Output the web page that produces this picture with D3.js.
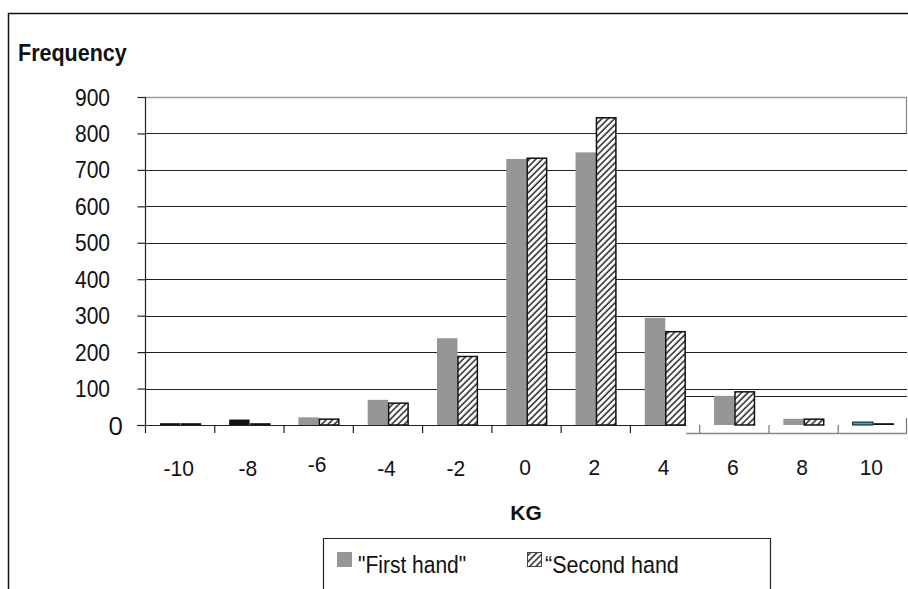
<!DOCTYPE html>
<html><head><meta charset="utf-8">
<script src="https://cdn.jsdelivr.net/npm/d3@7/dist/d3.min.js"></script>
<style>html,body{margin:0;padding:0;background:#fff;}svg{display:block;}</style>
</head><body>
<svg id="c" width="908" height="589"></svg>
<script>
const categories = ["-10","-8","-6","-4","-2","0","2","4","6","8","10"];
const firstHand  = [5, 15, 21, 69, 238, 730, 748, 294, 80, 17, 8];
const secondHand = [5, 5, 16, 60, 188, 732, 843, 256, 91, 16, 5];
const yTicks = [0,100,200,300,400,500,600,700,800,900];
const seriesNames = ["\"First hand\"", "\u201CSecond hand"];
// per-point fill oddities seen in the picture
const firstFill  = ["#111","#111","#969696","#969696","#969696","#969696","#969696","#969696","#969696","#969696","#39a7d8"];
const secondFill = ["#111","#111","hatch","hatch","hatch","hatch","hatch","hatch","hatch","hatch","#111"];

const svg = d3.select("#c");
const W = 908, H = 589;
const plot = {l:145, r:907, t:97, b:425};

const defs = svg.append("defs");
const pat = defs.append("pattern").attr("id","hatch").attr("patternUnits","userSpaceOnUse")
  .attr("width",4.5).attr("height",4.5).attr("patternTransform","rotate(45)");
pat.append("rect").attr("width",4.5).attr("height",4.5).attr("fill","#fff");
pat.append("line").attr("x1",1).attr("x2",1).attr("y1",0).attr("y2",4.5).attr("stroke","#333").attr("stroke-width",1.6);

// outer frame
svg.append("path").attr("d",`M8.5,${H} L8.5,13.5 L${W},13.5`).attr("fill","none").attr("stroke","#111").attr("stroke-width",1.5);

const x = d3.scaleBand().domain(categories).range([plot.l, plot.r]).padding(0);
const bw = x.bandwidth();
const xs = d3.scaleBand().domain([0,1]).range([bw*0.215, bw*0.805]).padding(0);
const y = d3.scaleLinear().domain([0,900]).range([plot.b, plot.t]);

// gridlines
svg.append("g").selectAll("line").data(yTicks.filter(d=>d>0)).join("line")
  .attr("x1",plot.l).attr("x2",plot.r)
  .attr("y1",d=>Math.round(y(d))+0.5).attr("y2",d=>Math.round(y(d))+0.5)
  .attr("stroke",d=>d===900?"#9a9a9a":"#222").attr("stroke-width",d=>d===900?1.5:1.2);
// gray right edge near top
svg.append("line").attr("x1",plot.r-0.5).attr("x2",plot.r-0.5).attr("y1",y(900)).attr("y2",y(800))
  .attr("stroke","#888").attr("stroke-width",1.2);

// artifact: shifted fragment at lower right
const fragX = x("6") - 13;
svg.append("line").attr("x1",fragX).attr("x2",plot.r).attr("y1",Math.round(y(80))+0.5).attr("y2",Math.round(y(80))+0.5)
  .attr("stroke","#222").attr("stroke-width",1.2);
svg.append("line").attr("x1",fragX).attr("x2",plot.r).attr("y1",Math.round(y(-22))+0.5).attr("y2",Math.round(y(-22))+0.5)
  .attr("stroke","#888").attr("stroke-width",1.5);
svg.append("g").selectAll("line").data(["6","8","10"]).join("line")
  .attr("x1",d=>x(d)+0.5).attr("x2",d=>x(d)+0.5).attr("y1",y(-22)).attr("y2",y(0))
  .attr("stroke","#777").attr("stroke-width",1.2);
svg.append("line").attr("x1",plot.r-0.5).attr("x2",plot.r-0.5).attr("y1",y(-22)).attr("y2",y(0)-7)
  .attr("stroke","#777").attr("stroke-width",1.2);

// bars
const rows = categories.map((c,i)=>({c, v:[firstHand[i], secondHand[i]], f:[firstFill[i], secondFill[i]]}));
const bars = svg.append("g");
rows.forEach(r=>{
  [0,1].forEach(s=>{
    const fill = r.f[s];
    const isHatch = fill==="hatch";
    const isSolidDark = fill==="#111";
    const bx = x(r.c)+xs(s), by = y(r.v[s]), bh = y(0)-y(r.v[s]);
    bars.append("rect")
      .attr("x", bx + (isHatch||s===1?0.5:0)).attr("y", by)
      .attr("width", xs.bandwidth() - (isHatch?1:0)).attr("height", bh)
      .attr("fill", isHatch ? "url(#hatch)" : fill)
      .attr("stroke", isHatch ? "#111" : (fill==="#39a7d8" ? "#111" : "none"))
      .attr("stroke-width", isHatch ? 1.5 : 1);
  });
});

// axes
const yAxis = d3.axisLeft(y).tickValues(yTicks).tickSize(8).tickFormat("");
const gy = svg.append("g").attr("transform",`translate(${plot.l+0.5},0)`).call(yAxis);
gy.select(".domain").remove();
gy.selectAll(".tick line").attr("stroke","#222").attr("stroke-width",1.2);
svg.append("line").attr("x1",plot.l+0.5).attr("x2",plot.l+0.5).attr("y1",plot.t).attr("y2",plot.b+8)
  .attr("stroke","#222").attr("stroke-width",1.2);

const xAxis = d3.axisBottom(x).tickSize(0).tickFormat("");
const gx = svg.append("g").attr("transform",`translate(0,${Math.round(plot.b)+0.5})`).call(xAxis);
gx.select(".domain").remove();
svg.append("line").attr("x1",plot.l-8).attr("x2",fragX).attr("y1",Math.round(plot.b)+0.5).attr("y2",Math.round(plot.b)+0.5)
  .attr("stroke","#222").attr("stroke-width",1.2);
svg.append("g").selectAll("line").data(categories.slice(1,8)).join("line")
  .attr("x1",d=>x(d)+0.5).attr("x2",d=>x(d)+0.5).attr("y1",plot.b).attr("y2",plot.b+8)
  .attr("stroke","#222").attr("stroke-width",1.2);

// text helper with vertical stretch
function txt(str, tx, ty, opts){
  const t = svg.append("text").text(str)
    .attr("transform",`translate(${tx},${ty}) scale(1,${opts.sy||1})`)
    .attr("font-family", opts.family || "'Liberation Sans', Arial, sans-serif")
    .attr("font-size", opts.size).attr("fill","#111")
    .attr("text-anchor", opts.anchor||"start");
  if (opts.bold) t.attr("font-weight","bold");
  return t;
}

// y tick labels
yTicks.forEach(v=>{
  if (v===0) {
    txt("0", 123, y(0)+9.5, {size:26, family:"'Open Sans', sans-serif", anchor:"end", sy:1.0});
  } else {
    txt(String(v), 110, y(v)+8.5, {size:21, anchor:"end", sy:1.18});
  }
});

// x tick labels
categories.forEach(c=>{
  const dy = c==="-6" ? -3 : (c==="-10"||c==="-8"||c==="-4"||c==="-2" ? 1 : 0);
  txt(c, x(c)+bw/2 - 1, 475+dy, {size:21, anchor:"middle", sy:1.05});
});

// titles
txt("Frequency", 18, 61, {size:21.5, bold:true, sy:1.15});
txt("KG", 526, 520, {size:21, bold:true, anchor:"middle", sy:1.0});

// legend
svg.append("path").attr("d",`M323.5,${H} L323.5,538.5 L770.5,538.5 L770.5,${H}`).attr("fill","none").attr("stroke","#222").attr("stroke-width",1.2);
svg.append("rect").attr("x",337).attr("y",552).attr("width",15).attr("height",15).attr("fill","#969696");
svg.append("rect").attr("x",527.5).attr("y",552.5).attr("width",14).attr("height",14).attr("fill","url(#hatch)").attr("stroke","#444").attr("stroke-width",1);
txt(seriesNames[0], 358, 573, {size:21, sy:1.12});
txt(seriesNames[1], 545, 573, {size:21.5, sy:1.12});
</script>
</body></html>
